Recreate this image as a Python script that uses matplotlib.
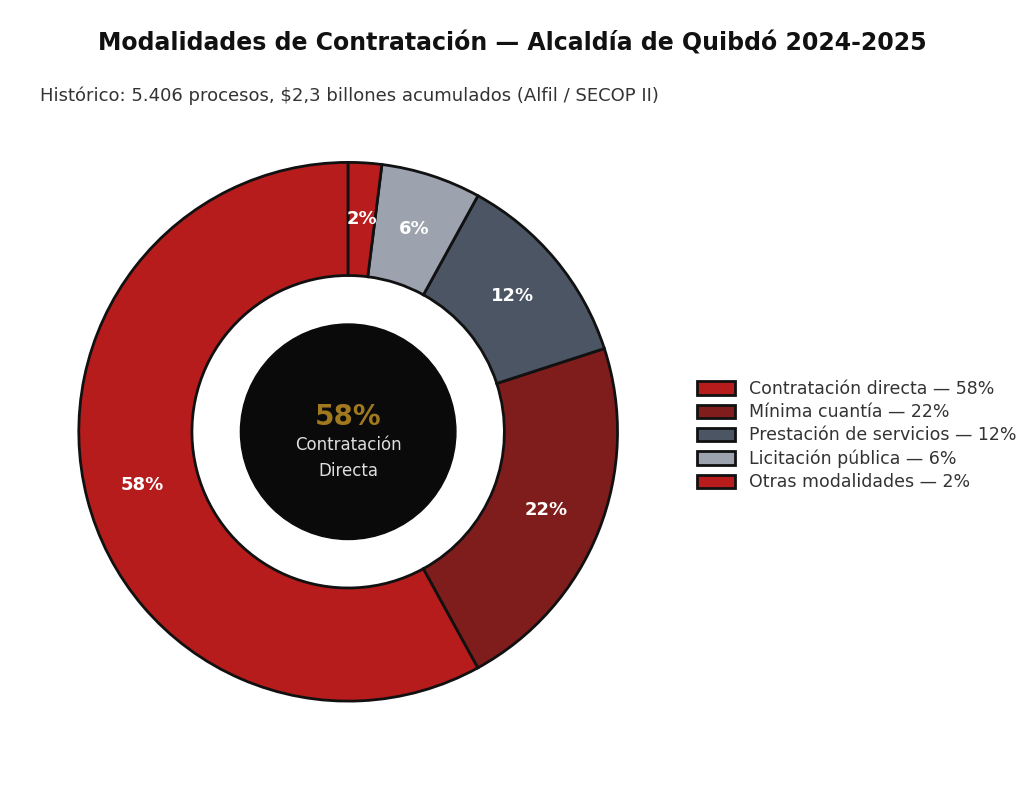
import matplotlib.pyplot as plt

labels = ['Contratación directa', 'Mínima cuantía', 'Prestación de servicios',
          'Licitación pública', 'Otras modalidades']
values = [58, 22, 12, 6, 2]
colors = ['#B71C1C', '#7F1D1D', '#4B5563', '#9CA3AF', '#B91C1C']

fig = plt.figure(figsize=(10.24, 7.85), dpi=100)
ax = fig.add_axes([0.07, 0.1, 0.54, 0.7])

wedges, texts = ax.pie(values, colors=colors, startangle=90, counterclock=True,
                       radius=1.0, wedgeprops=dict(width=0.42, edgecolor='#111111', linewidth=2))
import numpy as np
ang0 = 90
for w, v in zip(wedges, values):
    mid = np.deg2rad((w.theta1 + w.theta2) / 2)
    ax.text(0.79 * np.cos(mid), 0.79 * np.sin(mid), f'{v}%', ha='center', va='center',
            color='white', fontsize=13, fontweight='bold')

ax.add_patch(plt.Circle((0, 0), 0.4, color='#0A0A0A'))
ax.text(0, 0.055, '58%', ha='center', va='center', color='#A0781E', fontsize=20, fontweight='bold')
ax.text(0, -0.05, 'Contratación', ha='center', va='center', color='#DDDDDD', fontsize=12)
ax.text(0, -0.145, 'Directa', ha='center', va='center', color='#DDDDDD', fontsize=12)
ax.set_xlim(-1.02, 1.02)
ax.set_ylim(-1.02, 1.02)
ax.set_aspect('equal')

fig.legend(wedges, [f'{l} — {v}%' for l, v in zip(labels, values)],
           loc='center left', bbox_to_anchor=(0.665, 0.445), frameon=False,
           fontsize=12.5, labelcolor='#333333', handlelength=2.2, handleheight=0.8,
           labelspacing=0.3)

fig.text(0.5, 0.945, 'Modalidades de Contratación — Alcaldía de Quibdó 2024-2025',
         ha='center', va='center', fontsize=17, fontweight='bold', color='#111111')
fig.text(0.039, 0.878, 'Histórico: 5.406 procesos, $2,3 billones acumulados (Alfil / SECOP II)',
         ha='left', va='center', fontsize=13, color='#333333')

fig.savefig('out.png', dpi=100, facecolor='white')
